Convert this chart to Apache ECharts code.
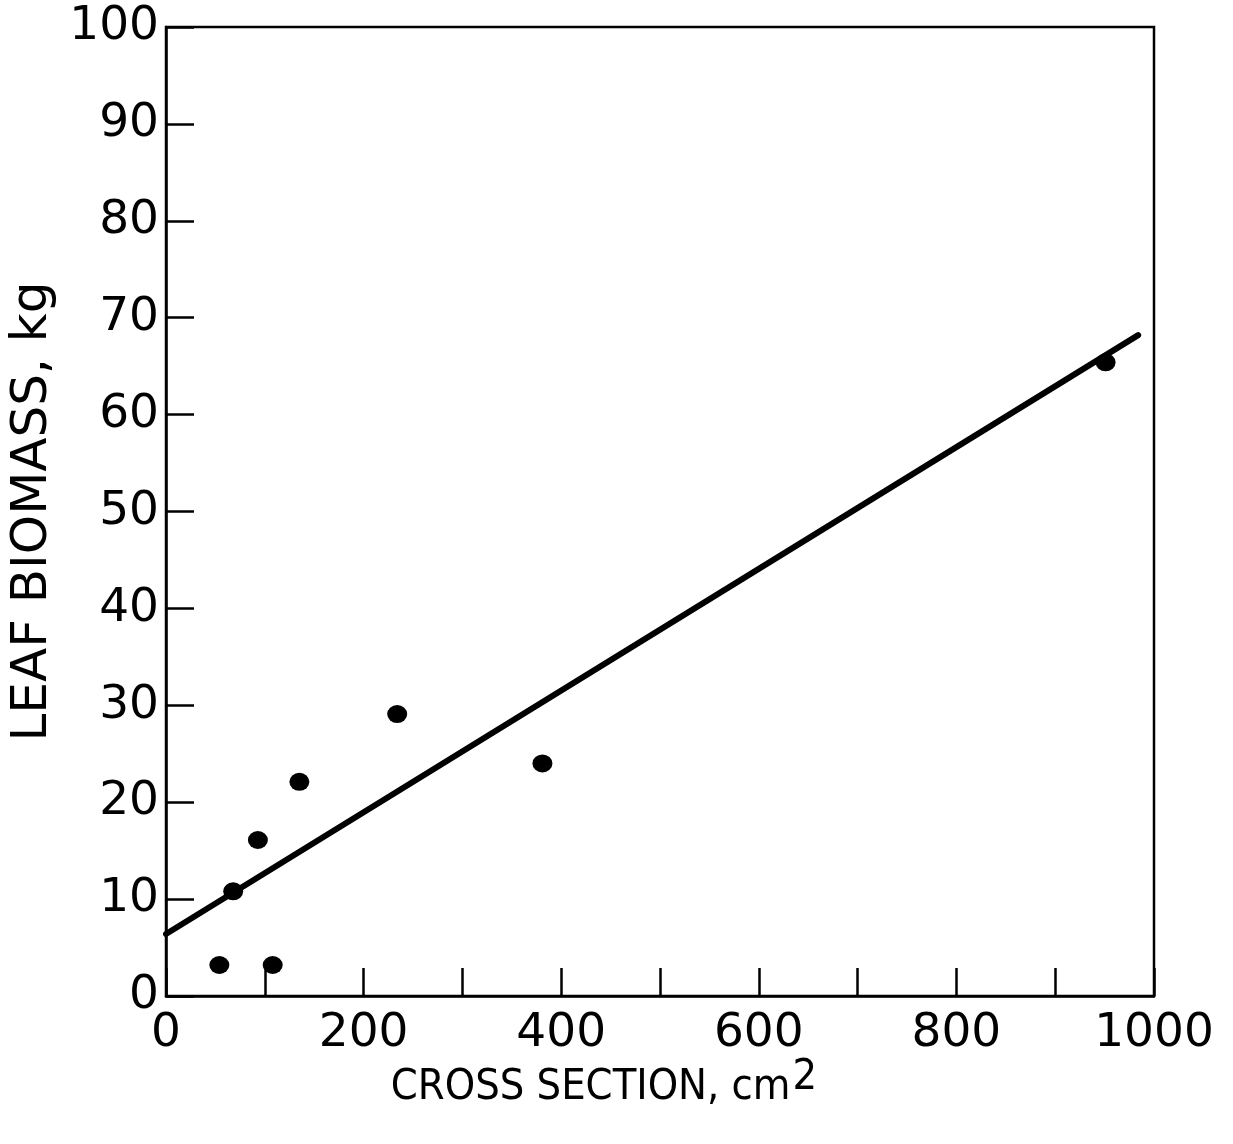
<!DOCTYPE html>
<html>
<head>
<meta charset="utf-8">
<script src="https://cdn.jsdelivr.net/npm/echarts@6/dist/echarts.min.js"></script>
<style>
  body { margin: 0; background: #fff; }
  #main { width: 1233px; height: 1144px; }
</style>
</head>
<body>
<div id="main"></div>
<script>
    // measured points (cross section cm2, leaf biomass kg)
    var crossSection = [54, 108, 68, 93, 135, 234, 381, 951];
    var leafBiomass = [3.2, 3.2, 10.8, 16.1, 22.1, 29.1, 24.0, 65.4];
    // fitted line end points
    var fitX = [0, 984];
    var fitY = [6.4, 68.2];
    var xTickLabels = ['0', '200', '400', '600', '800', '1000'];
    var yTickLabels = ['0', '10', '20', '30', '40', '50', '60', '70', '80', '90', '100'];

    var myChart = echarts.init(document.getElementById('main'));

    var font = 'DejaVu Sans';
    var narrow = '"DejaVu Sans Condensed", "Liberation Sans Narrow", "Liberation Sans"';

    option = {
        backgroundColor: '#fff',
        animation: false,
        grid: {
            left: 164, right: 79, top: 27, bottom: 148,
            show: true,
            borderColor: '#000',
            borderWidth: 2.5
        },
        xAxis: {
            type: 'value',
            min: 0,
            max: 1000,
            interval: 100,
            name: '{t|CROSS SECTION, cm}{s|2}',
            nameLocation: 'middle',
            nameGap: 60,
            nameMoveOverlap: false,
            nameTextStyle: {
                padding: [0, 112, 0, 0],
                rich: {
                    t: { fontFamily: narrow, fontSize: 43, color: '#000', verticalAlign: 'bottom' },
                    s: { fontFamily: narrow, fontSize: 43, color: '#000', padding: [0, 0, 10, 2], verticalAlign: 'bottom' }
                }
            },
            axisLine: { lineStyle: { color: '#000', width: 2.5 } },
            axisTick: { inside: true, length: 28, lineStyle: { color: '#000', width: 2.5 } },
            splitLine: { show: false },
            axisLabel: {
                margin: 14,
                fontFamily: font,
                fontSize: 47,
                color: '#000',
                formatter: function (v) {
                    var s = String(v);
                    return xTickLabels.indexOf(s) >= 0 ? s : '';
                }
            }
        },
        yAxis: {
            type: 'value',
            min: 0,
            max: 100,
            interval: 10,
            name: 'LEAF BIOMASS, kg',
            nameLocation: 'middle',
            nameGap: 108,
            nameMoveOverlap: false,
            nameTextStyle: { fontFamily: font, fontSize: 50, color: '#000' },
            axisLine: { lineStyle: { color: '#000', width: 2.5 } },
            axisTick: { inside: true, length: 28, lineStyle: { color: '#000', width: 2.5 } },
            splitLine: { show: false },
            axisLabel: {
                margin: 7,
                fontFamily: font,
                fontSize: 47,
                color: '#000',
                formatter: function (v) {
                    var s = String(v);
                    return yTickLabels.indexOf(s) >= 0 ? s : '';
                }
            }
        },
        series: [
            {
                type: 'line',
                data: fitX.map(function (x, i) { return [x, fitY[i]]; }),
                symbol: 'none',
                lineStyle: { color: '#000', width: 6, cap: 'round' },
                z: 2
            },
            {
                type: 'scatter',
                data: crossSection.map(function (x, i) { return [x, leafBiomass[i]]; }),
                symbol: 'circle',
                symbolSize: [20, 18],
                itemStyle: { color: '#000', opacity: 1 },
                z: 3
            }
        ]
    };

    myChart.setOption(option);
</script>
</body>
</html>
